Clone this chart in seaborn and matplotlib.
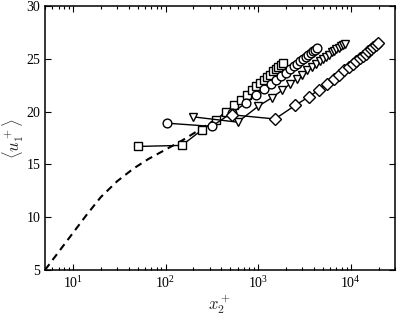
import matplotlib
matplotlib.use('Agg')
import matplotlib.pyplot as plt
import seaborn as sns
import numpy as np

# dashed reference profile
ref_x = [5, 7, 10, 14, 20, 30, 45, 65, 100, 150, 220, 300, 400, 500]
ref_y = [5.0, 6.7, 8.5, 10.2, 11.9, 13.4, 14.6, 15.5, 16.4, 17.25, 18.15, 18.9, 19.6, 20.1]

# squares
sq_x = [50, 150, 250, 350, 450, 550, 650, 750, 850, 950, 1050, 1150, 1250, 1350,
        1450, 1550, 1650, 1750, 1850]
sq_y = [16.7, 16.8, 18.3, 19.2, 20.0, 20.6, 21.1, 21.6, 22.0, 22.4, 22.7, 23.0, 23.3,
        23.5, 23.8, 24.0, 24.2, 24.4, 24.6]

# circles
ci_x = [105, 315, 525, 735, 945, 1155, 1365, 1575, 1785, 1995, 2205, 2415, 2625,
        2835, 3045, 3255, 3465, 3675, 3885, 4095, 4305]
ci_y = [18.9, 18.6, 19.9, 20.8, 21.6, 22.15, 22.6, 23.0, 23.35, 23.7, 24.0, 24.3,
        24.55, 24.8, 25.0, 25.2, 25.4, 25.55, 25.7, 25.85, 26.0]

# down triangles
tr_x = [200, 600, 1000, 1400, 1800, 2200, 2600, 3000, 3400, 3800, 4200, 4600, 5000,
        5400, 5800, 6200, 6600, 7000, 7400, 7800, 8200, 8600]
tr_y = [19.5, 19.0, 20.5, 21.3, 22.0, 22.6, 23.1, 23.5, 23.9, 24.2, 24.5, 24.75, 25.0,
        25.2, 25.4, 25.6, 25.75, 25.9, 26.05, 26.2, 26.3, 26.4]

# diamonds
di_x = [520, 1520, 2520, 3520, 4520, 5520, 6520, 7520, 8520, 9520, 10520, 11520,
        12520, 13520, 14520, 15520, 16520, 17520, 18520, 19520]
di_y = [19.7, 19.3, 20.6, 21.4, 22.05, 22.6, 23.1, 23.5, 23.9, 24.2, 24.5, 24.8,
        25.05, 25.3, 25.5, 25.7, 25.9, 26.1, 26.3, 26.5]

sns.set_style('ticks')
plt.rcParams['font.family'] = ['Liberation Serif', 'DejaVu Serif']
plt.rcParams['mathtext.fontset'] = 'stix'

fig = plt.figure(figsize=(3.99, 3.22), dpi=100)
ax = fig.add_axes([45/399, 52/322, 350/399, 264/322])

sns.lineplot(x=ref_x, y=ref_y, ax=ax, color='black', linewidth=1.5, sort=False)
ax.lines[-1].set_dashes([3.5, 2.5])

mk = dict(color='black', linewidth=1.0, markerfacecolor='white', markeredgecolor='black',
          markeredgewidth=1.0, markersize=6.3, sort=False)
sns.lineplot(x=sq_x, y=sq_y, ax=ax, marker='s', **mk)
sns.lineplot(x=ci_x, y=ci_y, ax=ax, marker='o', **mk)
sns.lineplot(x=tr_x, y=tr_y, ax=ax, marker='v', **mk)
sns.lineplot(x=di_x, y=di_y, ax=ax, marker='D', **{**mk, 'markersize': 5.8})

ax.set_xscale('log')
ax.set_xlim(5, 3e4)
ax.set_ylim(5, 30)
ax.set_yticks([5, 10, 15, 20, 25, 30])

ax.tick_params(which='both', direction='in', top=True, right=True, labelsize=10,
               width=0.8, colors='black')
ax.tick_params(which='major', length=4)
ax.tick_params(which='minor', length=2.2)
for s in ax.spines.values():
    s.set_linewidth(1.1)
    s.set_color('black')

ax.set_xlabel(r'$x_2^+$', fontsize=12, math_fontfamily='cm', labelpad=1)
ax.set_ylabel(r'$\langle u_1^+ \rangle$', fontsize=12, math_fontfamily='cm', labelpad=0)

fig.savefig('out.png', dpi=100)
